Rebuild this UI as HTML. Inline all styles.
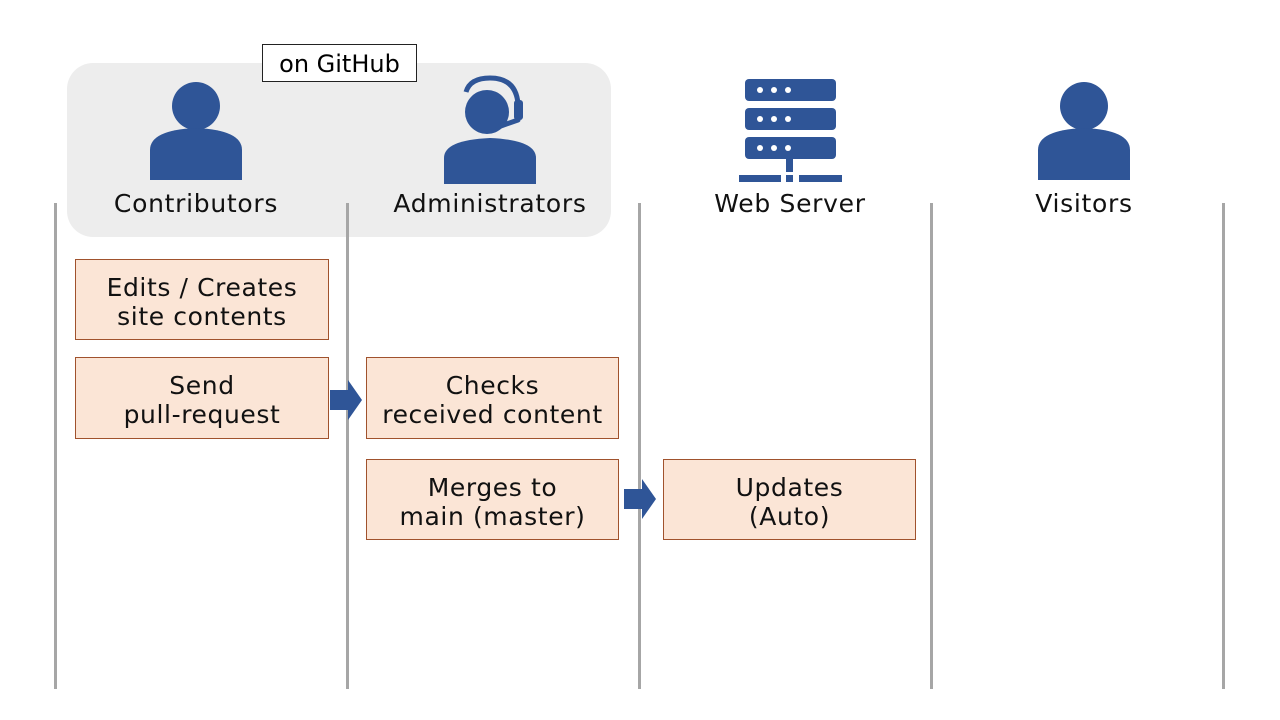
<!DOCTYPE html>
<html><head><meta charset="utf-8"><style>
body{margin:0;width:1280px;height:720px;background:#fff;position:relative;overflow:hidden;font-family:"DejaVu Sans","Liberation Sans",sans-serif;}
.a{position:absolute}
.vl{position:absolute;top:203px;width:3px;height:486px;background:#a6a6a6}
.box{position:absolute;background:#fbe5d6;border:1px solid #a0522d;box-sizing:border-box;display:flex;align-items:center;justify-content:center;text-align:center;font-size:25px;letter-spacing:0.6px;line-height:29px;padding-top:4px;color:#111}
.lbl{position:absolute;top:189px;width:280px;text-align:center;font-size:25px;letter-spacing:0.7px;color:#111}
</style></head><body>
<div class="a" style="left:67px;top:63px;width:544px;height:174px;background:#ededed;border-radius:26px"></div>
<div class="a" style="left:262px;top:44px;width:155px;height:38px;background:#fff;border:1px solid #222;box-sizing:border-box;font-size:24px;text-align:center;line-height:38px">on GitHub</div>
<div class="vl" style="left:54px"></div><div class="vl" style="left:346px"></div><div class="vl" style="left:638px"></div><div class="vl" style="left:930px"></div><div class="vl" style="left:1222px"></div>
<svg class="a" style="left:0;top:0" width="1280" height="720">
<g fill="#2f5597">
<circle cx="196" cy="106" r="24"/><path d="M150 180 V150 Q150 130 196 128 Q242 130 242 150 V180Z"/>
<circle cx="487" cy="112" r="22"/><path d="M444 184 V158 Q444 140 490 138 Q536 140 536 158 V184Z"/>
<path d="M466 92 Q470 78 490 78 Q516 78 518 104" fill="none" stroke="#2f5597" stroke-width="5"/>
<rect x="514" y="100" width="9" height="20" rx="3"/>
<path d="M498 127 L518 120" stroke="#2f5597" stroke-width="5" fill="none" stroke-linecap="round"/>
<circle cx="1084" cy="106" r="24"/><path d="M1038 180 V150 Q1038 130 1084 128 Q1130 130 1130 150 V180Z"/>
<rect x="745" y="79" width="91" height="22" rx="4"/><rect x="745" y="108" width="91" height="22" rx="4"/><rect x="745" y="137" width="91" height="22" rx="4"/>
<rect x="786" y="159" width="7" height="13"/>
<rect x="739" y="175" width="42" height="7"/><rect x="786" y="175" width="7" height="7"/><rect x="799" y="175" width="43" height="7"/>
<path d="M330 390 H348 V380 L362 400 L348 420 V410 H330Z"/>
<path d="M624 489 H642 V479 L656 499 L642 519 V509 H624Z"/>
</g>
<g fill="#fff"><circle cx="760" cy="90" r="3"/><circle cx="774" cy="90" r="3"/><circle cx="788" cy="90" r="3"/>
<circle cx="760" cy="119" r="3"/><circle cx="774" cy="119" r="3"/><circle cx="788" cy="119" r="3"/>
<circle cx="760" cy="148" r="3"/><circle cx="774" cy="148" r="3"/><circle cx="788" cy="148" r="3"/></g>
</svg>
<div class="lbl" style="left:56px">Contributors</div>
<div class="lbl" style="left:350px">Administrators</div>
<div class="lbl" style="left:650px">Web Server</div>
<div class="lbl" style="left:944px">Visitors</div>
<div class="box" style="left:75px;top:259px;width:254px;height:81px">Edits / Creates<br>site contents</div>
<div class="box" style="left:75px;top:357px;width:254px;height:82px">Send<br>pull-request</div>
<div class="box" style="left:366px;top:357px;width:253px;height:82px">Checks<br>received content</div>
<div class="box" style="left:366px;top:459px;width:253px;height:81px">Merges to<br>main (master)</div>
<div class="box" style="left:663px;top:459px;width:253px;height:81px">Updates<br>(Auto)</div>
</body></html>
